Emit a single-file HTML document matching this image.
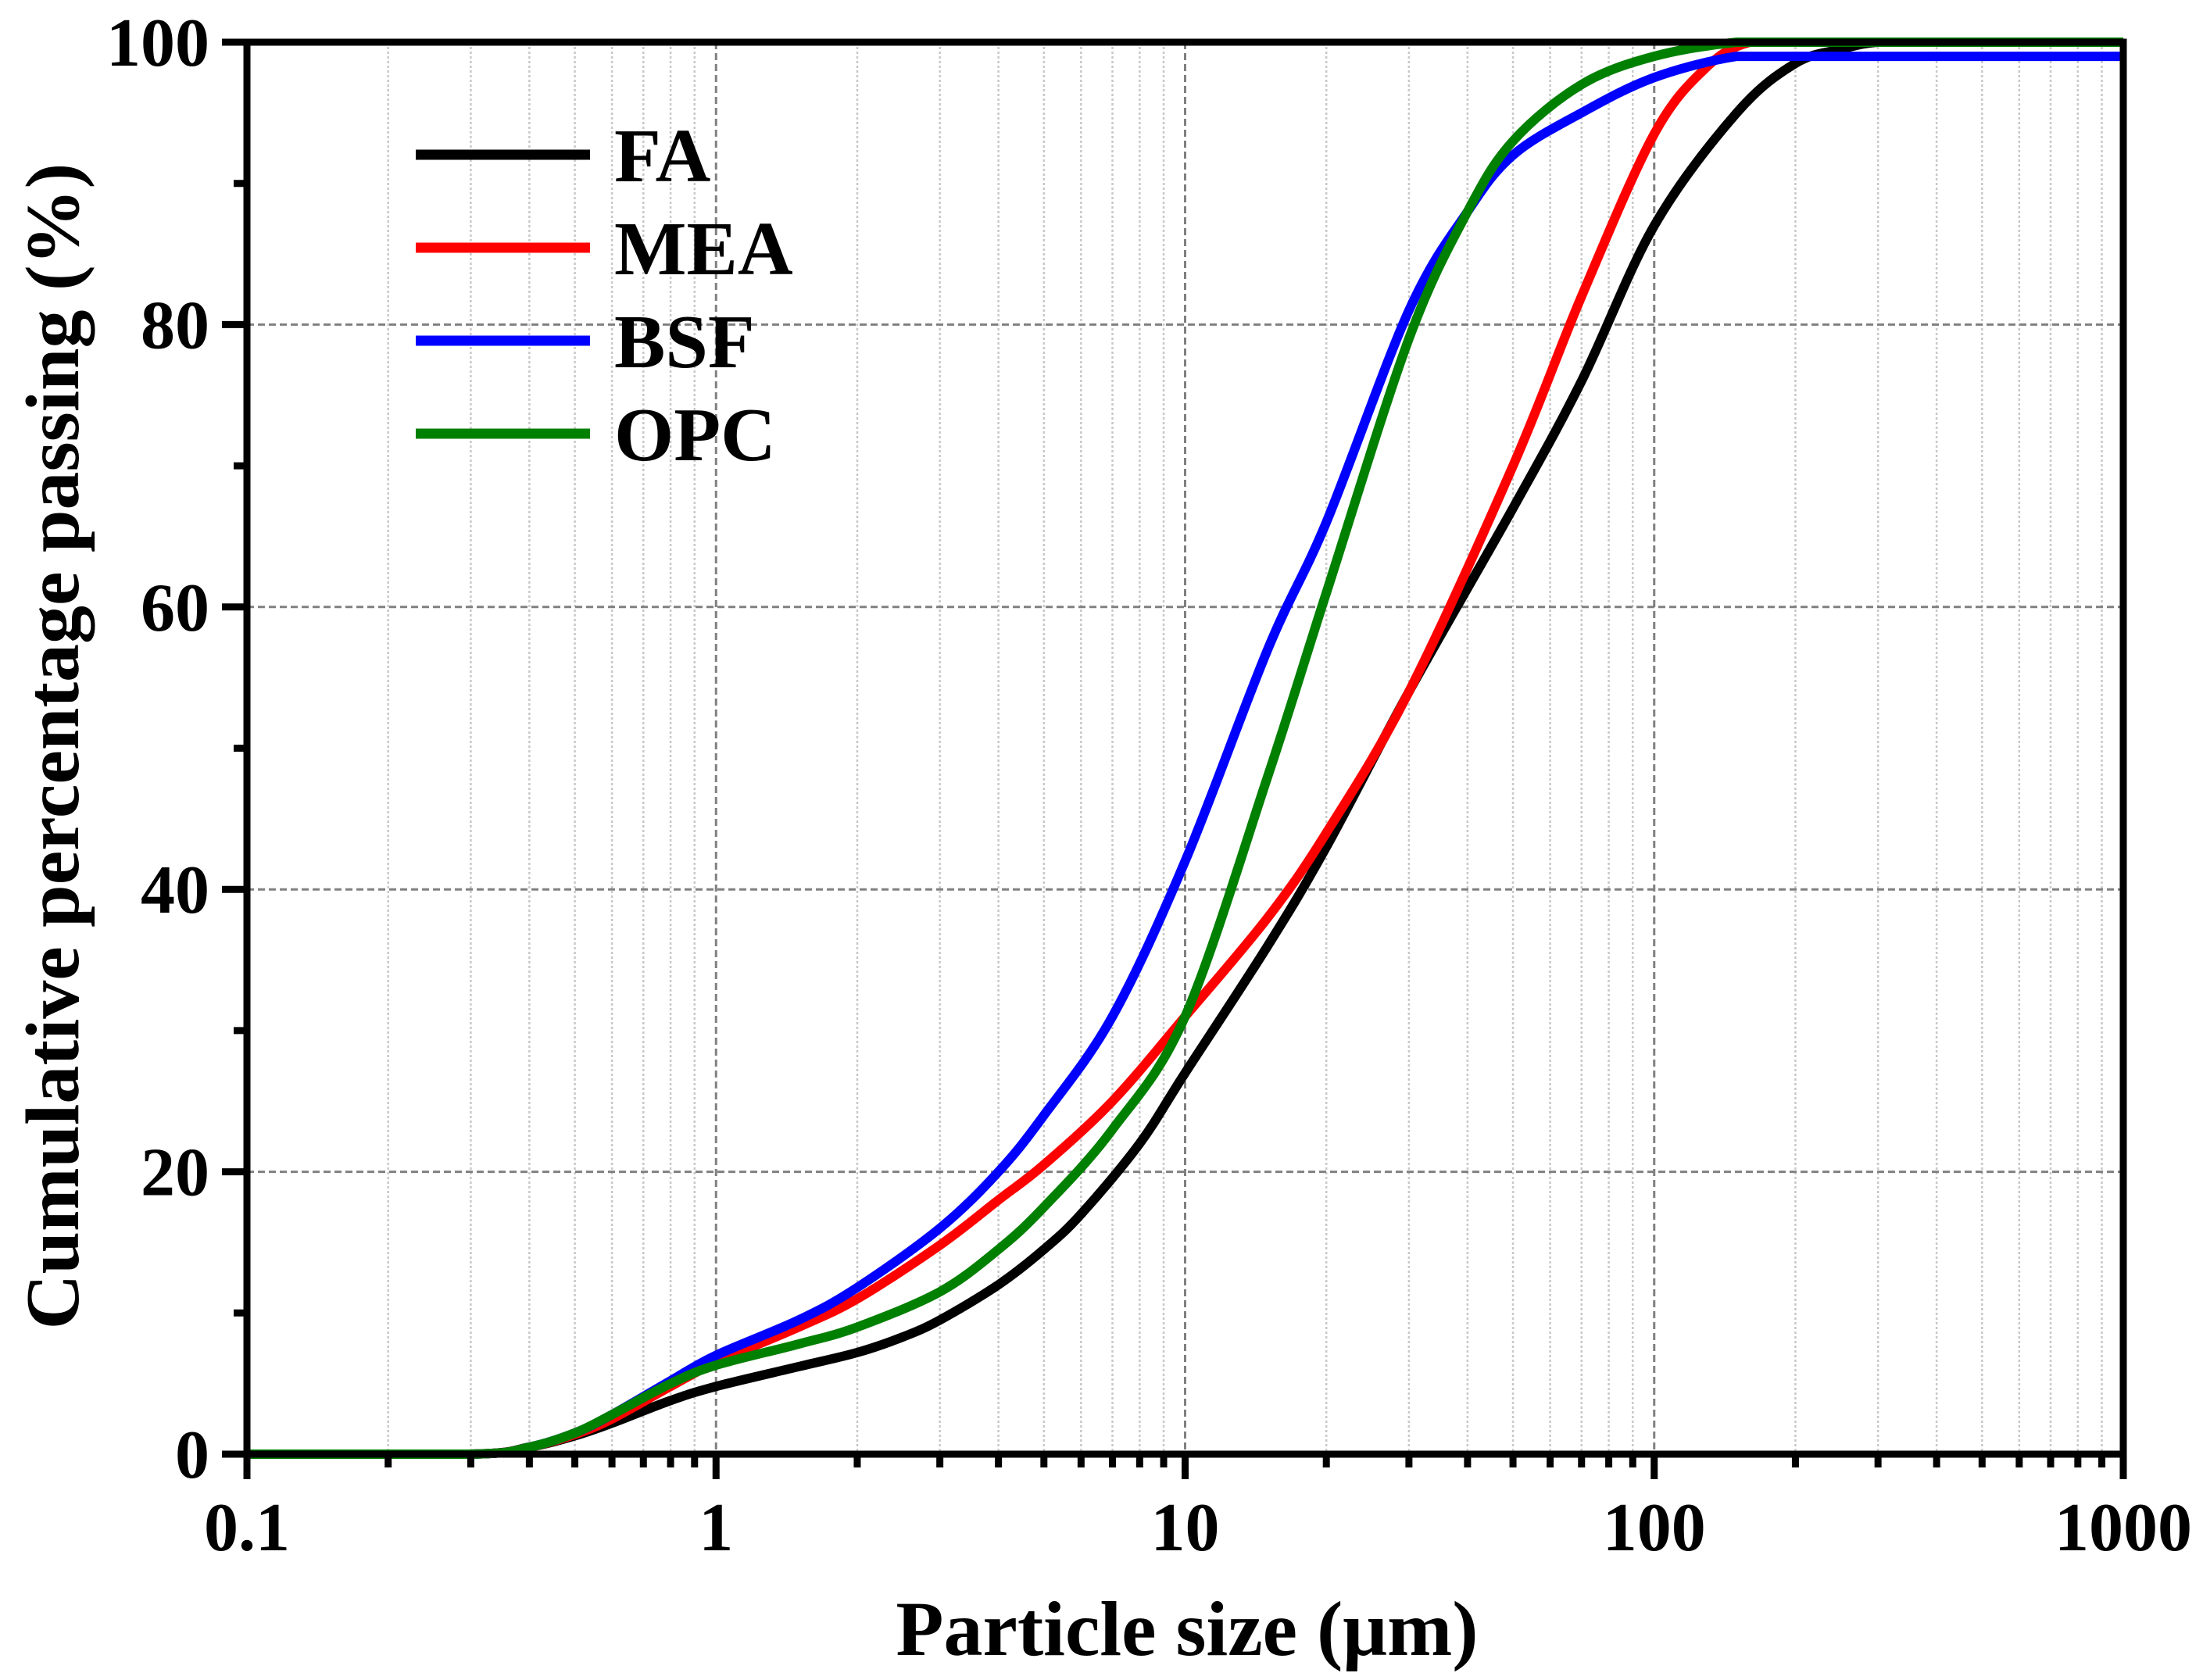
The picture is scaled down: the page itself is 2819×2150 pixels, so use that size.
<!DOCTYPE html>
<html><head><meta charset="utf-8"><style>
html,body{margin:0;padding:0;background:#fff}
svg{display:block}
text{font-family:"Liberation Serif",serif;font-weight:bold;fill:#000}
</style></head><body>
<svg id="chart" width="2819" height="2150" viewBox="0 0 2819 2150">
<g id="grid"></g>
<g id="series"></g>
<g id="axes"></g>
<g id="legend"></g>
<text x="1519" y="2118" font-size="100" text-anchor="middle">Particle size (μm)</text>
<text transform="translate(100,955) rotate(-90)" font-size="98" text-anchor="middle">Cumulative percentage passing (%)</text>
</svg>
<script>
const xTicks=[0.1,1,10,100,1000];
const xTickLabels=["0.1","1","10","100","1000"];
const yTicks=[0,20,40,60,80,100];
const yTickLabels=["0","20","40","60","80","100"];
const seriesNames=["FA","MEA","BSF","OPC"];
const seriesColors=["#000000","#ff0000","#0000ff","#008000"];
const faX=[0.1,0.3,0.4,0.5,0.6,0.8,1,1.5,2,2.5,3,4,5,6,8,10,15,20,30,50,70,100,150,200,250,300,400,1000];
const faY=[0,0,0.5,1.3,2.2,3.8,4.8,6.2,7.2,8.3,9.5,12,14.5,17,22,27,36,43,54,67,76,87,95,98.5,99.5,100,100,100];
const meaX=[0.1,0.3,0.4,0.5,0.6,0.8,1,1.5,2,3,4,5,7,10,15,20,30,50,70,100,130,160,200,1000];
const meaY=[0,0,0.5,1.4,2.5,4.8,6.5,9,11,14.8,18,20.5,25,31,38,44,54,70,82,93.5,98.3,100,100,100];
const bsfX=[0.1,0.3,0.4,0.5,0.6,0.8,1,1.5,2,3,4,5,7,10,15,20,30,40,50,70,100,150,200,1000];
const bsfY=[0,0,0.5,1.5,2.8,5.2,7,9.5,11.8,16,20,24,31,42,57,66,81,88,92,95,97.5,99,99,99];
const opcX=[0.1,0.3,0.4,0.5,0.6,0.8,1,1.5,2,3,4,5,7,10,15,20,30,40,50,70,100,150,200,1000];
const opcY=[0,0,0.5,1.5,2.8,5,6.3,7.8,9,11.5,14.5,17.5,23,31,48,61,79,88,93,97,99,100,100,100];
const seriesX=[faX,meaX,bsfX,opcX];
const seriesY=[faY,meaY,bsfY,opcY];

const L=316,R=2717,T=54,B=1861;
const NS="http://www.w3.org/2000/svg";
function sx(v){return L+(Math.log10(v)+1)/4*(R-L);}
function sy(v){return B-v/100*(B-T);}
function mk(tag,attrs,parent){const e=document.createElementNS(NS,tag);for(const k in attrs)e.setAttribute(k,attrs[k]);parent.appendChild(e);return e;}
const grid=document.getElementById('grid'),axes=document.getElementById('axes'),ser=document.getElementById('series'),leg=document.getElementById('legend');
for(let d=-1;d<3;d++){for(let m=2;m<=9;m++){const x=sx(m*Math.pow(10,d));
 const g=mk('line',{x1:x,x2:x,y1:T,y2:B,stroke:'#c8c8c8','stroke-width':2.5,'stroke-dasharray':'3 3'},grid);
 
 const t=mk('line',{x1:x,x2:x,y1:B,y2:B+17,stroke:'#000','stroke-width':9},axes);
 }}
xTicks.forEach((v,i)=>{const x=sx(v);
 if(i>0&&i<xTicks.length-1){const g=mk('line',{x1:x,x2:x,y1:T,y2:B,stroke:'#808080','stroke-width':3,'stroke-dasharray':'9 5'},grid);
  }
 const t=mk('line',{x1:x,x2:x,y1:B,y2:B+32,stroke:'#000','stroke-width':9},axes);
 
 const lb=mk('text',{x:x,y:B+123,'font-size':88,'text-anchor':'middle'},axes);lb.textContent=xTickLabels[i];
 });
for(let v=10;v<100;v+=20){const y=sy(v);const t=mk('line',{x1:L-17,x2:L,y1:y,y2:y,stroke:'#000','stroke-width':9},axes);
 }
yTicks.forEach((v,i)=>{const y=sy(v);
 if(i>0&&i<yTicks.length-1){const g=mk('line',{x1:L,x2:R,y1:y,y2:y,stroke:'#808080','stroke-width':3,'stroke-dasharray':'9 5'},grid);
  }
 const t=mk('line',{x1:L-32,x2:L,y1:y,y2:y,stroke:'#000','stroke-width':9},axes);
 
 const lb=mk('text',{x:L-48,y:y+30,'font-size':88,'text-anchor':'end'},axes);lb.textContent=yTickLabels[i];
 });
const frame=mk('rect',{x:L,y:T,width:R-L,height:B-T,fill:'none',stroke:'#000','stroke-width':9},axes);

function pathFor(xs,ys){const p=xs.map((v,i)=>[sx(v),sy(ys[i])]);let d='M'+p[0][0]+','+p[0][1];
 for(let i=0;i<p.length-1;i++){const p0=p[i-1]||p[i],p1=p[i],p2=p[i+1],p3=p[i+2]||p2;
  let c1=[p1[0]+(p2[0]-p0[0])/6,p1[1]+(p2[1]-p0[1])/6],c2=[p2[0]-(p3[0]-p1[0])/6,p2[1]-(p3[1]-p1[1])/6];
  const lo=Math.min(p1[1],p2[1]),hi=Math.max(p1[1],p2[1]);
  c1[1]=Math.max(lo,Math.min(hi,c1[1]));c2[1]=Math.max(lo,Math.min(hi,c2[1]));
  d+=` C${c1[0]},${c1[1]} ${c2[0]},${c2[1]} ${p2[0]},${p2[1]}`;}return d;}
seriesNames.forEach((n,i)=>{const e=mk('path',{d:pathFor(seriesX[i],seriesY[i]),fill:'none',stroke:seriesColors[i],'stroke-width':12,'stroke-linejoin':'round'},ser);
 
 const y=198+i*119;
 const ln=mk('line',{x1:532,x2:755,y1:y,y2:y,stroke:seriesColors[i],'stroke-width':13},leg);
 
 const tx=mk('text',{x:786,y:y+34,'font-size':98},leg);tx.textContent=n;
 });
</script>
</body></html>
